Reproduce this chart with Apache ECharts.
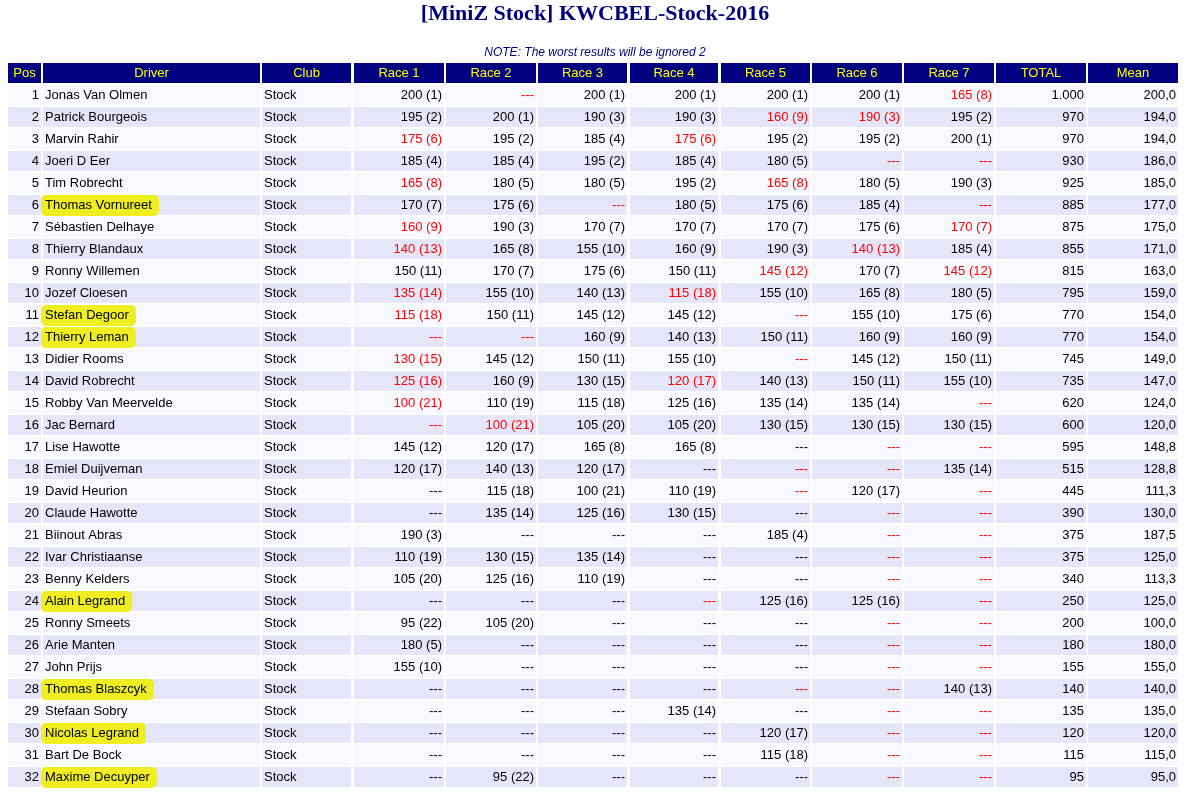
<!DOCTYPE html>
<html>
<head>
<meta charset="utf-8">
<script src="https://cdn.jsdelivr.net/npm/echarts@6/dist/echarts.min.js"></script>
<style>html,body{margin:0;padding:0;background:#fff;}#c{width:1190px;height:793px;}</style>
</head>
<body>
<div id="c"></div>
<script>
// ---------- DATA ----------
const titleText = '[MiniZ Stock] KWCBEL-Stock-2016';
const noteText = 'NOTE: The worst results will be ignored 2';
const columns = ['Pos','Driver','Club','Race 1','Race 2','Race 3','Race 4','Race 5','Race 6','Race 7','TOTAL','Mean'];
const positions = ['1','2','3','4','5','6','7','8','9','10','11','12','13','14','15','16','17','18','19','20','21','22','23','24','25','26','27','28','29','30','31','32'];
const drivers = ['Jonas Van Olmen','Patrick Bourgeois','Marvin Rahir','Joeri D Eer','Tim Robrecht','Thomas Vornureet','Sébastien Delhaye','Thierry Blandaux','Ronny Willemen','Jozef Cloesen','Stefan Degoor','Thierry Leman','Didier Rooms','David Robrecht','Robby Van Meervelde','Jac Bernard','Lise Hawotte','Emiel Duijveman','David Heurion','Claude Hawotte','Biinout Abras','Ivar Christiaanse','Benny Kelders','Alain Legrand','Ronny Smeets','Arie Manten','John Prijs','Thomas Blaszcyk','Stefaan Sobry','Nicolas Legrand','Bart De Bock','Maxime Decuyper'];
const clubs = ['Stock','Stock','Stock','Stock','Stock','Stock','Stock','Stock','Stock','Stock','Stock','Stock','Stock','Stock','Stock','Stock','Stock','Stock','Stock','Stock','Stock','Stock','Stock','Stock','Stock','Stock','Stock','Stock','Stock','Stock','Stock','Stock'];
// '*' marks an ignored (worst) result, shown in red
const race1 = ['200 (1)','195 (2)','*175 (6)','185 (4)','*165 (8)','170 (7)','*160 (9)','*140 (13)','150 (11)','*135 (14)','*115 (18)','*---','*130 (15)','*125 (16)','*100 (21)','*---','145 (12)','120 (17)','---','---','190 (3)','110 (19)','105 (20)','---','95 (22)','180 (5)','155 (10)','---','---','---','---','---'];
const race2 = ['*---','200 (1)','195 (2)','185 (4)','180 (5)','175 (6)','190 (3)','165 (8)','170 (7)','155 (10)','150 (11)','*---','145 (12)','160 (9)','110 (19)','*100 (21)','120 (17)','140 (13)','115 (18)','135 (14)','---','130 (15)','125 (16)','---','105 (20)','---','---','---','---','---','---','95 (22)'];
const race3 = ['200 (1)','190 (3)','185 (4)','195 (2)','180 (5)','*---','170 (7)','155 (10)','175 (6)','140 (13)','145 (12)','160 (9)','150 (11)','130 (15)','115 (18)','105 (20)','165 (8)','120 (17)','100 (21)','125 (16)','---','135 (14)','110 (19)','---','---','---','---','---','---','---','---','---'];
const race4 = ['200 (1)','190 (3)','*175 (6)','185 (4)','195 (2)','180 (5)','170 (7)','160 (9)','150 (11)','*115 (18)','145 (12)','140 (13)','155 (10)','*120 (17)','125 (16)','105 (20)','165 (8)','---','110 (19)','130 (15)','---','---','---','*---','---','---','---','---','135 (14)','---','---','---'];
const race5 = ['200 (1)','*160 (9)','195 (2)','180 (5)','*165 (8)','175 (6)','170 (7)','190 (3)','*145 (12)','155 (10)','*---','150 (11)','*---','140 (13)','135 (14)','130 (15)','---','*---','*---','---','185 (4)','---','---','125 (16)','---','---','---','*---','---','120 (17)','115 (18)','---'];
const race6 = ['200 (1)','*190 (3)','195 (2)','*---','180 (5)','185 (4)','175 (6)','*140 (13)','170 (7)','165 (8)','155 (10)','160 (9)','145 (12)','150 (11)','135 (14)','130 (15)','*---','*---','120 (17)','*---','*---','*---','*---','125 (16)','*---','*---','*---','*---','*---','*---','*---','*---'];
const race7 = ['*165 (8)','195 (2)','200 (1)','*---','190 (3)','*---','*170 (7)','185 (4)','*145 (12)','180 (5)','175 (6)','160 (9)','150 (11)','155 (10)','*---','130 (15)','*---','135 (14)','*---','*---','*---','*---','*---','*---','*---','*---','*---','140 (13)','*---','*---','*---','*---'];
const totals = ['1.000','970','970','930','925','885','875','855','815','795','770','770','745','735','620','600','595','515','445','390','375','375','340','250','200','180','155','140','135','120','115','95'];
const means = ['200,0','194,0','194,0','186,0','185,0','177,0','175,0','171,0','163,0','159,0','154,0','154,0','149,0','147,0','124,0','120,0','148,8','128,8','111,3','130,0','187,5','125,0','113,3','125,0','100,0','180,0','155,0','140,0','135,0','120,0','115,0','95,0'];
// drivers marked with a yellow highlighter
const highlighted = ['Thomas Vornureet','Stefan Degoor','Thierry Leman','Alain Legrand','Thomas Blaszcyk','Nicolas Legrand','Maxime Decuyper'];

// ---------- LAYOUT ----------
const colLeft  = [8, 43, 262, 354, 446, 538, 630, 721, 812, 904, 996, 1088];
const colRight = [41, 260, 351, 444, 536, 627, 718, 810, 902, 994, 1086, 1178];
const colAlign = ['right','left','left','right','right','right','right','right','right','right','right','right'];
const FONT = '13px "Liberation Sans", Arial, sans-serif';
const NAVY = '#000080';

const races = [race1, race2, race3, race4, race5, race6, race7];
const rowKeys = ['__header__'].concat(drivers);

function cellText(r, c) {
  const i = r - 1;
  if (c === 0) return positions[i];
  if (c === 1) return drivers[i];
  if (c === 2) return clubs[i];
  if (c >= 3 && c <= 9) return races[c - 3][i];
  if (c === 10) return totals[i];
  return means[i];
}

const data = [];
for (let r = 0; r < rowKeys.length; r++) {
  for (let c = 0; c < columns.length; c++) data.push([c, r]);
}

const mctx = document.createElement('canvas').getContext('2d');
mctx.font = FONT;

function renderItem(params, api) {
  const c = api.value(0), r = api.value(1);
  const p0 = api.coord([colLeft[c], r]);
  const p1 = api.coord([colRight[c], r]);
  const band = api.size([0, 1])[1];
  const top = p0[1] - band / 2 + 1;
  const h = band - 2;
  const children = [];
  let fill;
  if (r === 0) fill = NAVY; else fill = (r % 2 === 1) ? '#F8F8FF' : '#E6E6FA';
  children.push({ type: 'rect', shape: { x: p0[0], y: top, width: p1[0] - p0[0], height: h }, style: { fill: fill } });
  let text, color, align, tx;
  if (r === 0) {
    text = columns[c]; color = '#FFFF00'; align = 'center'; tx = (p0[0] + p1[0]) / 2;
  } else {
    let s = cellText(r, c);
    color = '#000000';
    if (s.charAt(0) === '*') { s = s.slice(1); color = '#FF0000'; }
    text = s; align = colAlign[c];
    tx = align === 'left' ? p0[0] + 2 : p1[0] - 2;
    if (c === 1 && highlighted.indexOf(s) >= 0) {
      const w = mctx.measureText(s).width;
      children.push({ type: 'rect', shape: { x: tx - 4, y: p0[1] - 10, width: w + 11, height: 21, r: 5 }, style: { fill: '#EEEE22' } });
    }
  }
  children.push({ type: 'text', style: { text: text, x: tx, y: p0[1] + 0.5, align: align, verticalAlign: 'middle', fill: color, font: FONT } });
  return { type: 'group', children: children };
}

const chart = echarts.init(document.getElementById('c'), null, { renderer: 'canvas' });
chart.setOption({
  animation: false,
  backgroundColor: '#ffffff',
  title: [
    { text: titleText, left: 'center', top: 3, padding: 0,
      textStyle: { fontFamily: '"Liberation Serif", "Times New Roman", serif', fontWeight: 'bold', fontSize: 22, color: NAVY } },
    { text: noteText, left: 'center', top: 47, padding: 0,
      textStyle: { fontFamily: '"Liberation Sans", Arial, sans-serif', fontStyle: 'italic', fontWeight: 'normal', fontSize: 12, color: NAVY } }
  ],
  grid: { left: 0, right: 0, top: 62, height: 726 },
  xAxis: { type: 'value', min: 0, max: 1190, show: false },
  yAxis: { type: 'category', data: rowKeys, inverse: true, show: false },
  series: [{ type: 'custom', renderItem: renderItem, data: data, clip: false, silent: true }]
});
</script>
</body>
</html>
